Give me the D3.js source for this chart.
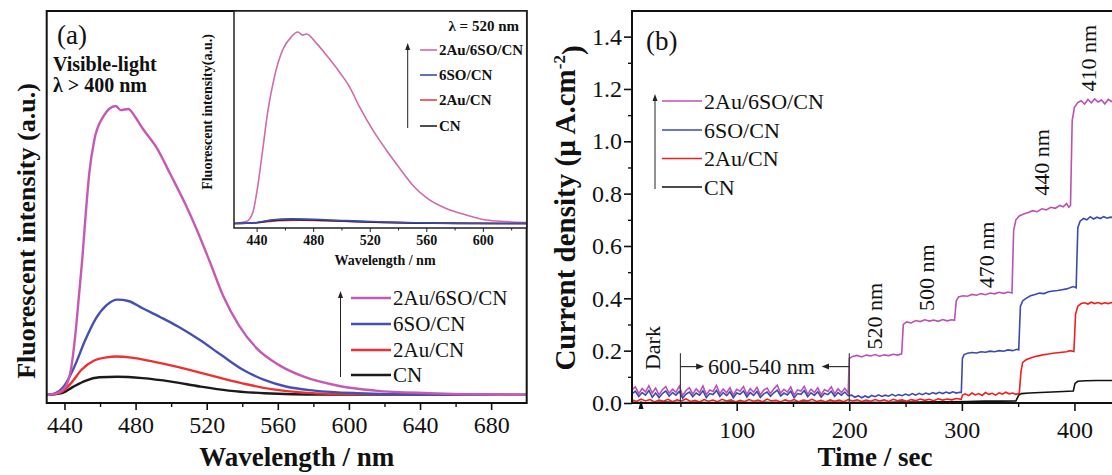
<!DOCTYPE html>
<html>
<head>
<meta charset="utf-8">
<script src="https://cdn.jsdelivr.net/npm/d3@7"></script>
<style>
  body { margin: 0; background: #fff; }
  svg { display: block; }
  text { font-family: "Liberation Serif", "Times New Roman", serif; fill: #111; }
</style>
</head>
<body>
<div id="chart"></div>
<script>
const W = 1112, H = 475

const SAMPLES = ["2Au/6SO/CN", "6SO/CN", "2Au/CN", "CN"]
const COLORS_A = ["#c659b4", "#4450b3", "#ee3030", "#1a1a1a"]
const COLORS_IN = ["#d06aa8", "#3c4cb0", "#e84040", "#222222"]
const COLORS_B = ["#bb52b2", "#3b49b2", "#f01e1e", "#111111"]

// (a) PL spectra, [wavelength nm, intensity a.u.]
const pl2Au6SO = [[430.5,0],[436.6,8],[440.6,29],[443.6,87],[446,202],[448.1,340],[450,470],[452,630],[454,770],[456.7,880],[461.8,963],[468.8,1000],[471.6,986],[475.9,990],[479.5,965],[483.9,923],[491.9,855],[499.8,761],[507.7,664],[514.5,571],[521.8,460],[529.1,345],[538.2,240],[548.3,160],[560.5,104],[574.6,63],[594.6,31],[614.9,15],[645.1,6],[700,0]]
const pl6SO = [[430.5,0],[433.6,3],[439.6,29],[445.6,98],[451.7,190],[457.7,265],[463.7,311],[469.8,330],[475.9,325],[483.9,300],[494,269],[504.1,236],[516.2,190],[528.2,138],[540.4,87],[552.4,52],[564.5,29],[580.6,15],[604.7,6],[645.1,1],[700,0]]
const pl2Au = [[430.5,0],[437.6,8],[443.6,40],[449.6,87],[456.7,119],[463.7,130],[468.8,133],[477.8,129],[490,115],[504.1,96],[516.2,77],[528.2,58],[542.3,37],[556.4,20],[574.6,8],[604.7,2],[700,0]]
const plCN = [[430.5,0],[438.6,6],[444.6,27],[451.7,49],[459.7,61],[469.8,63],[483.9,58],[500,46],[516.2,29],[532.3,15],[552.4,6],[584.6,1],[700,0]]

// (a) inset, excitation 520 nm (relative intensity)
const in2Au6SO = [[424.5,0],[432.7,0.01],[437.2,0.055],[440.7,0.19],[444.2,0.38],[447.8,0.58],[452.7,0.77],[458.4,0.906],[464.5,0.975],[469.2,1.0],[472.5,0.984],[475.3,0.99],[482.2,0.942],[489.3,0.88],[498.7,0.79],[505.7,0.714],[512.7,0.61],[522,0.49],[531.7,0.384],[541,0.29],[550.4,0.2],[560,0.135],[574,0.078],[588.2,0.044],[602.3,0.018],[616.5,0.01],[631,0.005]]
const in6SO = [[424,0],[440,0.005],[450,0.018],[465,0.024],[480,0.022],[500,0.016],[530,0.008],[560,0.003],[600,0],[631,0]]
const in2Au = [[424,0],[440,0.004],[455,0.014],[470,0.017],[490,0.014],[520,0.007],[560,0.002],[631,0]]
const inCN = [[424,0],[440,0.004],[450,0.015],[465,0.02],[480,0.018],[500,0.013],[530,0.006],[560,0.002],[631,0]]

// (b) photocurrent, [time s, current density uA/cm2]
const it2Au6SO = [[7,.050],[10,.062],[13,.036],[16,.055],[19,.042],[22,.066],[25,.038],[28,.057],[31,.031],[34,.051],[37,.063],[40,.037],[43,.053],[46,.041],[49,.064],[52,.029],[55,.048],[58,.058],[61,.034],[64,.054],[67,.040],[70,.065],[73,.032],[76,.050],[79,.044],[82,.067],[85,.035],[88,.053],[91,.039],[94,.059],[97,.030],[100,.052],[103,.045],[106,.063],[109,.033],[112,.055],[115,.041],[118,.060],[121,.031],[124,.049],[127,.057],[130,.036],[133,.054],[136,.068],[139,.038],[142,.052],[145,.042],[148,.061],[151,.030],[154,.050],[157,.046],[160,.064],[163,.034],[166,.053],[169,.040],[172,.058],[175,.032],[178,.051],[181,.044],[184,.062],[187,.035],[190,.054],[193,.040],[196,.056],[199,.038],
  [200,.17],[203,.178],[207,.182],[211,.176],[215,.183],[219,.18],[223,.185],[227,.179],[231,.184],[235,.181],[239,.186],[243,.183],[246.5,.188],
  [248,.30],[251,.31],[255,.306],[259,.315],[263,.311],[267,.318],[271,.313],[275,.317],[279,.312],[283,.319],[287,.314],[291,.318],[293.5,.316],
  [295,.39],[297,.405],[301,.41],[305,.408],[309,.415],[313,.412],[317,.418],[321,.414],[325,.42],[329,.417],[333,.423],[337,.419],[341,.424],[344.5,.42],
  [346,.66],[348,.70],[351,.715],[355,.722],[359,.728],[363,.735],[367,.731],[371,.742],[375,.738],[379,.748],[383,.744],[387,.755],[390,.75],[393,.762],[395,.748],[396.5,.755],
  [398,1.08],[400,1.13],[403,1.148],[406,1.155],[409,1.142],[412,1.16],[415,1.147],[418,1.162],[421,1.15],[424,1.158],[427,1.143],[430,1.16],[433,1.152],[436,1.157]]
const it6SO = [[7,.035],[10,.045],[13,.025],[16,.04],[19,.03],[22,.048],[25,.022],[28,.038],[31,.02],[34,.036],[37,.046],[40,.026],[43,.04],[46,.03],[49,.044],[52,.018],[55,.034],[58,.042],[61,.024],[64,.038],[67,.03],[70,.047],[73,.021],[76,.036],[79,.032],[82,.048],[85,.025],[88,.04],[91,.028],[94,.043],[97,.02],[100,.038],[103,.033],[106,.046],[109,.023],[112,.04],[115,.029],[118,.044],[121,.021],[124,.035],[127,.042],[130,.026],[133,.039],[136,.049],[139,.027],[142,.038],[145,.031],[148,.045],[151,.02],[154,.036],[157,.033],[160,.047],[163,.024],[166,.039],[169,.029],[172,.043],[175,.022],[178,.037],[181,.032],[184,.045],[187,.025],[190,.04],[193,.03],[196,.042],[199,.028],
  [202,.03],[205,.022],[208,.028],[211,.02],[214,.027],[217,.021],[220,.029],[223,.024],[226,.031],[229,.025],[232,.03],[235,.026],[238,.033],[241,.027],[244,.032],[247,.028],[250,.034],[253,.029],[256,.036],[259,.03],[262,.037],[265,.032],[268,.038],[271,.033],[274,.04],[277,.035],[280,.041],[283,.036],[286,.042],[289,.037],[292,.043],[295,.038],[298,.041],[299.5,.04],
  [300.5,.17],[302,.185],[305,.19],[309,.193],[313,.191],[317,.196],[321,.194],[325,.198],[329,.196],[333,.2],[337,.198],[341,.203],[345,.2],[349,.205],[350.5,.203],
  [352,.37],[354,.39],[357,.40],[361,.41],[365,.415],[369,.42],[373,.418],[377,.425],[381,.428],[385,.43],[389,.433],[393,.436],[396,.44],[399,.445],[401.5,.44],
  [403,.67],[405,.695],[408,.705],[411,.70],[414,.712],[417,.703],[420,.71],[423,.705],[426,.712],[429,.706],[432,.71],[435,.708]]
const it2Au = [[7,.012],[11,.006],[15,.015],[19,.008],[23,.013],[27,.004],[31,.011],[35,.007],[39,.014],[43,.005],[47,.012],[51,.008],[55,.016],[59,.006],[63,.01],[67,.004],[71,.013],[75,.007],[79,.011],[83,.005],[87,.014],[91,.008],[95,.012],[99,.004],[103,.01],[107,.006],[111,.013],[115,.007],[119,.011],[123,.005],[127,.015],[131,.008],[135,.01],[139,.004],[143,.012],[147,.007],[151,.013],[155,.005],[159,.011],[163,.008],[167,.014],[171,.006],[175,.01],[179,.004],[183,.012],[187,.007],[191,.011],[195,.005],[199,.013],[203,.008],[207,.012],[211,.006],[215,.011],[219,.007],[223,.013],[227,.008],[231,.012],[235,.006],[239,.014],[243,.009],[247,.012],[251,.007],[255,.013],[259,.009],[263,.015],[267,.01],[271,.014],[275,.009],[279,.016],[283,.011],[287,.015],[291,.012],[295,.017],[299.5,.014],
  [300.5,.03],[303,.035],[306,.028],[309,.038],[312,.031],[315,.036],[318,.029],[321,.04],[324,.033],[327,.037],[330,.03],[333,.039],[336,.034],[339,.041],[342,.035],[345,.038],[348,.033],[351,.037],
  [352.5,.12],[354,.155],[357,.165],[361,.172],[365,.178],[369,.181],[373,.185],[377,.187],[381,.19],[385,.192],[389,.194],[393,.196],[396,.2],[399.5,.197],
  [401,.34],[403,.37],[406,.38],[409,.383],[412,.378],[415,.385],[418,.38],[421,.384],[424,.379],[427,.383],[430,.38],[433,.384],[436,.381]]
const itCN = [[7,.003],[20,.001],[35,.004],[50,.002],[65,.003],[80,.001],[95,.004],[110,.002],[125,.003],[140,.001],[155,.004],[170,.002],[185,.003],[200,.002],[215,.003],[230,.002],[245,.004],[260,.004],[275,.005],[290,.005],[305,.006],[320,.007],[335,.007],[348,.008],
  [350.5,.03],[353,.036],[360,.038],[370,.04],[380,.042],[390,.044],[399,.046],
  [400.5,.075],[403,.083],[410,.085],[420,.086],[436,.086]]

const xTicksA = [440, 480, 520, 560, 600, 640, 680]
const xMinorA = [460, 500, 540, 580, 620, 660]
const xTicksIn = [440, 480, 520, 560, 600]
const xMinorIn = [460, 500, 540, 580, 620]
const xTicksB = [100, 200, 300, 400]
const xMinorB = [50, 150, 250, 350, 450]
const yTicksB = [0, 0.2, 0.4, 0.6, 0.8, 1.0, 1.2, 1.4]
const yMinorB = [0.1, 0.3, 0.5, 0.7, 0.9, 1.1, 1.3]

const svg = d3.select("#chart").append("svg")
  .attr("width", W)
  .attr("height", H)

// ---------- panel (a) ----------
const A = {L: 46.7, R: 526.7, T: 11, B: 403}
const xA = d3.scaleLinear().domain([430, 700]).range([A.L, A.R])
const yA = d3.scaleLinear().domain([-28, 1329]).range([A.B, A.T])

const gA = svg.append("g")

const lineA = d3.line()
  .x(d => xA(d[0]))
  .y(d => yA(d[1]))
  .curve(d3.curveMonotoneX)

const mainSeries = [pl2Au6SO, pl6SO, pl2Au, plCN]
// draw bottom-most first so the big curve sits on top
;[3, 2, 1, 0].forEach(i => {
  gA.append("path")
    .attr("d", lineA(mainSeries[i]))
    .attr("fill", "none")
    .attr("stroke", COLORS_A[i])
    .attr("stroke-width", 2.4)
})

gA.append("g")
  .attr("transform", `translate(0,${A.B})`)
  .call(d3.axisBottom(xA).tickValues(xTicksA).tickSize(7).tickPadding(6))
  .call(g => g.select(".domain").remove())
  .call(g => g.selectAll("line").attr("stroke", "#111").attr("stroke-width", 1.6))
  .call(g => g.selectAll("text").style("font-size", "24px").attr("fill", "#222"))

gA.append("g")
  .attr("transform", `translate(0,${A.B})`)
  .call(d3.axisBottom(xA).tickValues(xMinorA).tickSize(4).tickFormat(""))
  .call(g => g.select(".domain").remove())
  .call(g => g.selectAll("line").attr("stroke", "#111").attr("stroke-width", 1.4))

gA.append("rect")
  .attr("x", A.L).attr("y", A.T)
  .attr("width", A.R - A.L).attr("height", A.B - A.T)
  .attr("fill", "none").attr("stroke", "#111").attr("stroke-width", 2)

gA.append("text")
  .attr("x", 57).attr("y", 44)
  .style("font-size", "27px")
  .text("(a)")

gA.append("text")
  .attr("x", 53).attr("y", 71)
  .style("font-size", "20px").style("font-weight", "bold")
  .text("Visible-light")
gA.append("text")
  .attr("x", 53).attr("y", 92)
  .style("font-size", "20px").style("font-weight", "bold")
  .text("λ > 400 nm")

gA.append("text")
  .attr("x", (A.L + A.R) / 2 + 10).attr("y", 466)
  .attr("text-anchor", "middle")
  .style("font-size", "27px").style("font-weight", "bold")
  .text("Wavelength / nm")

gA.append("text")
  .attr("transform", "translate(26,231) rotate(-90)")
  .attr("text-anchor", "middle")
  .attr("dy", "0.35em")
  .style("font-size", "26px").style("font-weight", "bold")
  .text("Fluorescent intensity (a.u.)")

// legend with the upward arrow on its left
function legend(g, x0, rowsY, colors, size, weight, lineW, lineLen, arrowX) {
  const top = rowsY[0] - 6, bottom = rowsY[rowsY.length - 1] + 2
  g.append("line")
    .attr("x1", arrowX).attr("x2", arrowX)
    .attr("y1", bottom).attr("y2", top + 4)
    .attr("stroke", "#222").attr("stroke-width", 1)
  g.append("path")
    .attr("d", `M${arrowX - 2.5},${top + 6}L${arrowX},${top - 1}L${arrowX + 2.5},${top + 6}Z`)
    .attr("fill", "#222")
  SAMPLES.forEach((s, i) => {
    g.append("line")
      .attr("x1", x0).attr("x2", x0 + lineLen)
      .attr("y1", rowsY[i]).attr("y2", rowsY[i])
      .attr("stroke", colors[i]).attr("stroke-width", lineW)
    g.append("text")
      .attr("x", x0 + lineLen + 2).attr("y", rowsY[i])
      .attr("dy", "0.35em")
      .style("font-size", size + "px").style("font-weight", weight)
      .text(s)
  })
}
legend(gA, 351, [298, 324, 350, 375], COLORS_A, 21, "normal", 2.4, 40, 340.5)

// ---------- inset ----------
const I = {L: 234, R: 526.7, T: 11, B: 228}
const xI = d3.scaleLinear().domain([424, 631]).range([I.L, I.R])
const yI = d3.scaleLinear().domain([-0.0235, 1.11]).range([I.B, I.T])
const gI = svg.append("g")

gI.append("rect")
  .attr("x", I.L).attr("y", I.T)
  .attr("width", I.R - I.L).attr("height", I.B - I.T)
  .attr("fill", "#fff")

const lineI = d3.line()
  .x(d => xI(d[0]))
  .y(d => yI(d[1]))
  .curve(d3.curveMonotoneX)

const insetSeries = [in2Au6SO, in6SO, in2Au, inCN]
;[0, 2, 3, 1].forEach(i => {
  gI.append("path")
    .attr("d", lineI(insetSeries[i]))
    .attr("fill", "none")
    .attr("stroke", COLORS_IN[i])
    .attr("stroke-width", 1.6)
})

gI.append("g")
  .attr("transform", `translate(0,${I.B})`)
  .call(d3.axisBottom(xI).tickValues(xTicksIn).tickSize(4).tickPadding(3))
  .call(g => g.select(".domain").remove())
  .call(g => g.selectAll("line").attr("stroke", "#222"))
  .call(g => g.selectAll("text").style("font-size", "14px").style("font-weight", "bold").attr("fill", "#333"))

gI.append("g")
  .attr("transform", `translate(0,${I.B})`)
  .call(d3.axisBottom(xI).tickValues(xMinorIn).tickSize(2.5).tickFormat(""))
  .call(g => g.select(".domain").remove())
  .call(g => g.selectAll("line").attr("stroke", "#222"))

gI.append("rect")
  .attr("x", I.L).attr("y", I.T)
  .attr("width", I.R - I.L).attr("height", I.B - I.T)
  .attr("fill", "none").attr("stroke", "#222").attr("stroke-width", 1.5)

gI.append("text")
  .attr("x", 385).attr("y", 265)
  .attr("text-anchor", "middle")
  .style("font-size", "14px").style("font-weight", "bold").attr("fill", "#333")
  .text("Wavelength / nm")

gI.append("text")
  .attr("transform", "translate(207,112) rotate(-90)")
  .attr("text-anchor", "middle")
  .attr("dy", "0.35em")
  .style("font-size", "14px").style("font-weight", "bold").attr("fill", "#333")
  .text("Fluorescent intensity(a.u.)")

gI.append("text")
  .attr("x", 519).attr("y", 26)
  .attr("dy", "0.35em")
  .attr("text-anchor", "end")
  .style("font-size", "15px").style("font-weight", "bold")
  .text("λ = 520 nm")

legend(gI, 420, [50, 75, 100, 126], COLORS_IN, 15, "bold", 1.6, 17, 407.7)

// ---------- panel (b) ----------
const B = {L: 632, R: 1142, T: 11, B: 403}
const xB = d3.scaleLinear().domain([7, 460]).range([B.L, B.R])
const yB = d3.scaleLinear().domain([0, 1.5]).range([B.B, 10.45])
const gB = svg.append("g")

const lineB = d3.line()
  .x(d => xB(d[0]))
  .y(d => yB(d[1]))

const itSeries = [it2Au6SO, it6SO, it2Au, itCN]
;[0, 1, 3, 2].forEach(i => {
  gB.append("path")
    .attr("d", lineB(itSeries[i]))
    .attr("fill", "none")
    .attr("stroke", COLORS_B[i])
    .attr("stroke-width", 1.6)
})

gB.append("g")
  .attr("transform", `translate(0,${B.B})`)
  .call(d3.axisBottom(xB).tickValues(xTicksB).tickSize(8).tickPadding(10))
  .call(g => g.select(".domain").remove())
  .call(g => g.selectAll("line").attr("stroke", "#111").attr("stroke-width", 1.6))
  .call(g => g.selectAll("text").style("font-size", "24px").attr("fill", "#222"))
gB.append("g")
  .attr("transform", `translate(0,${B.B})`)
  .call(d3.axisBottom(xB).tickValues(xMinorB).tickSize(4).tickFormat(""))
  .call(g => g.select(".domain").remove())
  .call(g => g.selectAll("line").attr("stroke", "#111").attr("stroke-width", 1.4))

gB.append("g")
  .attr("transform", `translate(${B.L},0)`)
  .call(d3.axisLeft(yB).tickValues(yTicksB).tickFormat(d3.format(".1f")).tickSize(8).tickPadding(2))
  .call(g => g.select(".domain").remove())
  .call(g => g.selectAll("line").attr("stroke", "#111").attr("stroke-width", 1.6))
  .call(g => g.selectAll("text").style("font-size", "24px").attr("fill", "#222"))
gB.append("g")
  .attr("transform", `translate(${B.L},0)`)
  .call(d3.axisLeft(yB).tickValues(yMinorB).tickSize(4).tickFormat(""))
  .call(g => g.select(".domain").remove())
  .call(g => g.selectAll("line").attr("stroke", "#111").attr("stroke-width", 1.4))

gB.append("path")
  .attr("d", `M${B.R + 20},${B.T}H${B.L}V${B.B}H${B.R + 20}`)
  .attr("fill", "none").attr("stroke", "#111").attr("stroke-width", 2)

gB.append("text")
  .attr("x", 646).attr("y", 50)
  .style("font-size", "27px")
  .text("(b)")

gB.append("text")
  .attr("x", 875).attr("y", 466)
  .attr("text-anchor", "middle")
  .style("font-size", "27px").style("font-weight", "bold")
  .text("Time / sec")

const yTitle = gB.append("text")
  .attr("transform", "translate(565,208) rotate(-90)")
  .attr("text-anchor", "middle")
  .attr("dy", "0.35em")
  .style("font-size", "29px").style("font-weight", "bold")
yTitle.append("tspan").text("Current density (µ A.cm")
yTitle.append("tspan").attr("dy", "-0.6em").style("font-size", "17px").text("-2")
yTitle.append("tspan").attr("dy", "0.6em").text(")")

legend(gB, 662, [101, 130, 158.5, 187], COLORS_B, 22, "normal", 1.5, 40, 655)

// annotations (b)
function vlabel(t, v, str) {
  gB.append("text")
    .attr("transform", `translate(${xB(t)},${yB(v)}) rotate(-90)`)
    .attr("text-anchor", "middle")
    .attr("dy", "0.35em")
    .style("font-size", "22px")
    .text(str)
}
vlabel(25.4, 0.21, "Dark")
vlabel(222.5, 0.332, "520 nm")
vlabel(268.2, 0.479, "500 nm")
vlabel(321.7, 0.566, "470 nm")
vlabel(370.5, 0.919, "440 nm")
vlabel(412.5, 1.318, "410 nm")

;[50, 200].forEach(t => {
  gB.append("line")
    .attr("x1", xB(t)).attr("x2", xB(t))
    .attr("y1", yB(0)).attr("y2", yB(0.19))
    .attr("stroke", "#333").attr("stroke-width", 1.1)
})

const yArrow = yB(0.139)
gB.append("line")
  .attr("x1", xB(50)).attr("x2", xB(66)).attr("y1", yArrow).attr("y2", yArrow)
  .attr("stroke", "#222").attr("stroke-width", 1.1)
gB.append("path")
  .attr("d", `M${xB(64)},${yArrow - 3}L${xB(71)},${yArrow}L${xB(64)},${yArrow + 3}Z`)
  .attr("fill", "#222")
gB.append("line")
  .attr("x1", xB(200)).attr("x2", xB(180)).attr("y1", yArrow).attr("y2", yArrow)
  .attr("stroke", "#222").attr("stroke-width", 1.1)
gB.append("path")
  .attr("d", `M${xB(182)},${yArrow - 3}L${xB(175.5)},${yArrow}L${xB(182)},${yArrow + 3}Z`)
  .attr("fill", "#222")
gB.append("text")
  .attr("x", xB(122)).attr("y", yArrow)
  .attr("dy", "0.35em")
  .attr("text-anchor", "middle")
  .style("font-size", "22px")
  .text("600-540 nm")

// dark marker
gB.append("path")
  .attr("d", `M${xB(15) - 2.5},${B.B + 6}L${xB(15)},${B.B - 3}L${xB(15) + 2.5},${B.B + 6}Z`)
  .attr("fill", "#111")
</script>
</body>
</html>
